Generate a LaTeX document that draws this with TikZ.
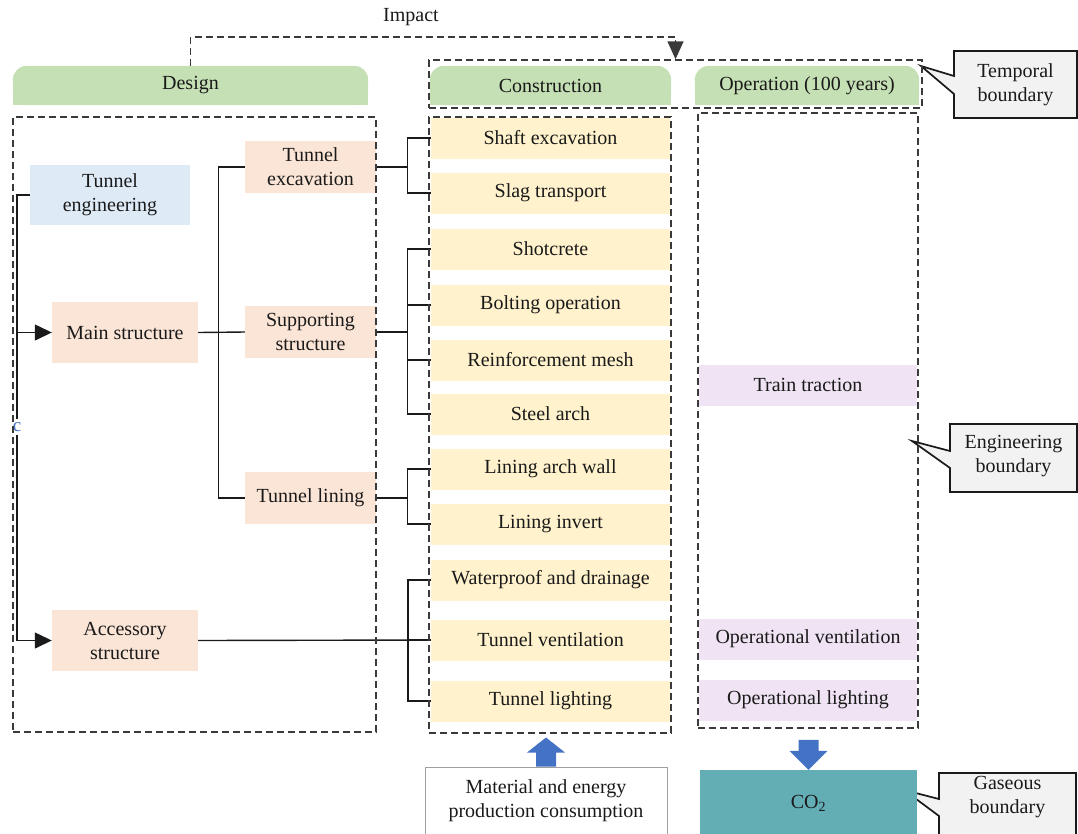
\documentclass[tikz,border=0pt]{standalone}
\usepackage{fontspec}
\setmainfont{Liberation Serif}
\usetikzlibrary{arrows.meta,backgrounds,calc}
\definecolor{hgreen}{HTML}{C5E0B4}
\definecolor{tblue}{HTML}{DEEBF7}
\definecolor{peach}{HTML}{FBE5D6}
\definecolor{cyellow}{HTML}{FFF2CC}
\definecolor{lav}{HTML}{EFE3F4}
\definecolor{tealbox}{HTML}{63AEB5}
\definecolor{bblue}{HTML}{4472C4}
\definecolor{cgray}{HTML}{F2F2F2}
\definecolor{dline}{HTML}{3A3A3A}
\definecolor{txt}{HTML}{1A1A1A}
\begin{document}
\begin{tikzpicture}[x=1pt,y=-1pt,
  every node/.style={font=\fontsize{20}{24}\selectfont, text=txt, inner sep=0pt, align=center},
  head/.style={minimum height=39pt},
  pbox/.style={fill=peach, minimum width=146pt, minimum height=61pt},
  sbox/.style={fill=peach, minimum width=131pt, minimum height=52pt},
  cbox/.style={fill=cyellow, minimum width=239pt, minimum height=41pt},
  obox/.style={fill=lav, minimum width=218pt, minimum height=41pt},
  dbox/.style={draw=dline, line width=1.5pt, dash pattern=on 7pt off 4pt},
  dsh/.style={draw=dline, line width=1.5pt, dash pattern=on 7pt off 4pt},
  conn/.style={draw=txt, line width=1.4pt},
  tip/.style={-{Triangle[length=17pt,width=16pt]}},
  callout/.style={fill=cgray, draw=txt, line width=1.7pt, line join=miter},
  blk/.style={fill=bblue}]
\useasboundingbox (0,0) rectangle (1078,833);

% headers
\node[head, minimum width=355pt] (hd) at (190.5,85.5) {Design};
\node[head, minimum width=241pt] (hc) at (550.5,85.5) {Construction};
\node[head, minimum width=224pt] (ho) at (807,85.5) {Operation (100 years)};
\begin{scope}[on background layer]
  \foreach \h in {hd,hc,ho}{
    \fill[hgreen, rounded corners=14pt] (\h.north west) rectangle (\h.south east);
    \fill[hgreen] (\h.west) rectangle (\h.south east);
  }
  % callouts
  \draw[callout] (954,51) -- (1077,51) -- (1077,118) -- (954,118) -- (954,94) -- (921,66) -- (954,76) -- cycle;
  \draw[callout] (950,424) -- (1077,424) -- (1077,492) -- (950,492) -- (950,468) -- (912,441) -- (950,451) -- cycle;
  \draw[callout] (939,773) -- (1076,773) -- (1076,850) -- (939,850) -- (939,816) -- (904,790) -- (939,799) -- cycle;
\end{scope}
\node (tcall) at (1015.5,84.5) {Temporal\\boundary};
\node (ecall) at (1013.5,456) {Engineering\\boundary};
\node (gcall) at (1007.5,797) {Gaseous\\boundary};

% impact
\node (imp) at (411,17) {Impact};

% design column
\node[fill=tblue, minimum width=160pt, minimum height=60pt] (te) at (110,195) {Tunnel\\engineering};
\node[pbox] (main) at (125,332.5) {Main structure};
\node[pbox] (acc) at (125,640.5) {Accessory\\structure};
\node[sbox] (tex) at (310.5,167) {Tunnel\\excavation};
\node[sbox] (sup) at (310.5,332) {Supporting\\structure};
\node[sbox] (lin) at (310.5,498) {Tunnel lining};

% construction column
\node[cbox] (c1) at (550.5,138) {Shaft excavation};
\node[cbox] (c2) at (550.5,193) {Slag transport};
\node[cbox] (c3) at (550.5,249) {Shotcrete};
\node[cbox] (c4) at (550.5,305) {Bolting operation};
\node[cbox] (c5) at (550.5,360) {Reinforcement mesh};
\node[cbox] (c6) at (550.5,414) {Steel arch};
\node[cbox] (c7) at (550.5,469) {Lining arch wall};
\node[cbox] (c8) at (550.5,524) {Lining invert};
\node[cbox] (c9) at (550.5,580) {Waterproof and drainage};
\node[cbox] (c10) at (550.5,640) {Tunnel ventilation};
\node[cbox] (c11) at (550.5,701) {Tunnel lighting};

% operation column
\node[obox] (o1) at (808,385) {Train traction};
\node[obox] (o2) at (808,639) {Operational ventilation};
\node[obox] (o3) at (808,700) {Operational lighting};

% bottom boxes
\node[draw=gray!75, line width=1pt, minimum width=242pt, minimum height=68pt] (mat) at (546,801) {Material and energy\\production consumption};
\node[fill=tealbox, minimum width=217pt, minimum height=66pt] (co2) at (808.5,803) {CO\textsubscript{2}};

% connectors: left
\draw[conn, tip] (te.west) -- ++(-13,0) |- (main.west);
\draw[conn, tip] (te.west) -- ++(-13,0) |- (acc.west);
\node[fill=white, text=bblue, font=\fontsize{19}{22}\selectfont, inner ysep=3pt, inner xsep=0.5pt] (cc) at (17,427) {c};

% main structure bus
\draw[conn] (main.east) -- ++(20,0) |- (tex.west);
\draw[conn] (main.east) -- (sup.west);
\draw[conn] (main.east) -- ++(20,0) |- (lin.west);

% to construction
\draw[conn] (tex.east) -- ++(31,0) |- (c1.west);
\draw[conn] (tex.east) -- ++(31,0) |- (c2.west);
\foreach \n in {c3,c4,c5,c6}{\draw[conn] (sup.east) -- ++(31,0) |- (\n.west);}
\draw[conn] (lin.east) -- ++(31,0) |- (c7.west);
\draw[conn] (lin.east) -- ++(31,0) |- (c8.west);
\draw[conn] (acc.east) -- (c10.west);
\draw[conn] (c10.west) -- ++(-23,0) |- (c9.west);
\draw[conn] (c10.west) -- ++(-23,0) |- (c11.west);

% dashed boundaries
\node[dbox, minimum width=493pt, minimum height=48pt] (tb) at (675.5,84) {};
\node[dbox, minimum width=363pt, minimum height=615pt] (db) at (194.5,424.5) {};
\node[dbox, minimum width=242pt, minimum height=616pt] (cb) at (550,425) {};
\node[dbox, minimum width=220pt, minimum height=615pt] (ob) at (808,420.5) {};

% impact arrow
\draw[dsh, -{Triangle[width=16pt,length=18pt]}] (hd.north) -- ++(0,-29) -| (tb.north);

% block arrows
\fill[blk] (mat.north) ++(-10,0) -- ++(0,-14) -- ++(-9,0) -- ++(19,-15) -- ++(19,15) -- ++(-9,0) -- ++(0,14) -- cycle;
\fill[blk] (co2.north) -- ++(-19,-19) -- ++(9,0) -- ++(0,-11) -- ++(20,0) -- ++(0,11) -- ++(9,0) -- cycle;
\end{tikzpicture}
\end{document}
